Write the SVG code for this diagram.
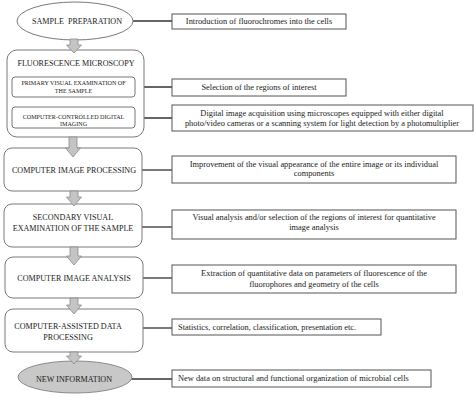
<svg xmlns="http://www.w3.org/2000/svg" width="474" height="402" viewBox="0 0 474 402">
<style>
.bg{fill:#ffffff}
.step{fill:#ffffff;stroke:#7a7a7a;stroke-width:1}
.inner{fill:#ffffff;stroke:#666666;stroke-width:0.9}
.note{fill:#ffffff;stroke:#555555;stroke-width:1}
.conn{stroke:#333333;stroke-width:1.3;fill:none}
.arrow{fill:#c4c4c4;stroke:#8a8a8a;stroke-width:0.8}
text{font-family:"Liberation Serif","Times New Roman","DejaVu Serif",serif;fill:#1a1a1a}
.t{font-size:8.1px;text-anchor:middle}
.ts{font-size:6.1px;text-anchor:middle}
.n{font-size:8.4px;text-anchor:middle}
.nl{font-size:8.4px;text-anchor:start}
</style>
<rect class="bg" x="0" y="0" width="474" height="402"/>

<g id="connectors">
<line class="conn" x1="133" y1="21" x2="172" y2="21"/>
<line class="conn" x1="135" y1="87" x2="172" y2="87"/>
<line class="conn" x1="135" y1="118" x2="172" y2="118"/>
<line class="conn" x1="142" y1="170" x2="172" y2="170"/>
<line class="conn" x1="142" y1="227" x2="172" y2="227"/>
<line class="conn" x1="143" y1="278" x2="172" y2="278"/>
<line class="conn" x1="143" y1="328" x2="172" y2="328"/>
<line class="conn" x1="131" y1="379" x2="172" y2="379"/>
</g>

<g id="sample-preparation">
<ellipse class="step" cx="75" cy="21" rx="58" ry="19"/>
<text class="t" x="77" y="23.9" xml:space="preserve">SAMPLE  PREPARATION</text>
</g>

<g id="fluorescence-microscopy">
<rect class="step" x="7" y="50" width="137" height="87" rx="10"/>
<text class="t" x="76" y="65.9">FLUORESCENCE MICROSCOPY</text>
</g>

<g id="primary-visual">
<rect class="inner" x="12" y="77" width="123" height="20" rx="3"/>
<text class="ts" x="73.5" y="85.2">PRIMARY VISUAL EXAMINATION OF</text>
<text class="ts" x="73.5" y="93.2">THE SAMPLE</text>
</g>

<g id="digital-imaging">
<rect class="inner" x="12" y="107" width="123" height="21" rx="3"/>
<text class="ts" x="73.5" y="118.9">COMPUTER-CONTROLLED DIGITAL</text>
<text class="ts" x="73.5" y="126.2">IMAGING</text>
</g>

<g id="image-processing">
<rect class="step" x="4" y="148" width="138" height="43" rx="8"/>
<text class="t" x="74" y="172.8">COMPUTER IMAGE PROCESSING</text>
</g>

<g id="secondary-visual">
<rect class="step" x="4" y="204" width="138" height="43" rx="8"/>
<text class="t" x="73" y="219.8">SECONDARY VISUAL</text>
<text class="t" x="73" y="230.8">EXAMINATION OF THE SAMPLE</text>
</g>

<g id="image-analysis">
<rect class="step" x="5" y="257" width="138" height="41" rx="8"/>
<text class="t" x="74" y="280.8">COMPUTER IMAGE ANALYSIS</text>
</g>

<g id="data-processing">
<rect class="step" x="5" y="309" width="138" height="43" rx="8"/>
<text class="t" x="68" y="328.8">COMPUTER-ASSISTED DATA</text>
<text class="t" x="68" y="339.8">PROCESSING</text>
</g>

<g id="new-information">
<ellipse cx="75" cy="377" rx="57" ry="16" fill="#c8c8c8" stroke="#8a8a8a" stroke-width="1"/>
<text class="t" x="74" y="381.8">NEW INFORMATION</text>
</g>

<g id="arrows">
<polygon class="arrow" points="70,39 78,39 78,45 81.5,45 74,53 66.5,45 70,45"/>
<polygon class="arrow" points="69,137 77,137 77,148 80.5,148 73,157 65.5,148 69,148"/>
<polygon class="arrow" points="70,191 78,191 78,197 81.5,197 74,206 66.5,197 70,197"/>
<polygon class="arrow" points="70,247 78,247 78,256 81.5,256 74,265 66.5,256 70,256"/>
<polygon class="arrow" points="70,298 78,298 78,305 81.5,305 74,314 66.5,305 70,305"/>
<polygon class="arrow" points="70,352 78,352 78,356 81.5,356 74,364 66.5,356 70,356"/>
</g>

<g id="note-fluorochromes">
<rect class="note" x="172" y="14" width="174" height="15"/>
<text class="n" x="259" y="24.4">Introduction of fluorochromes into the cells</text>
</g>

<g id="note-selection">
<rect class="note" x="172" y="79" width="174" height="17"/>
<text class="n" x="259" y="90.3">Selection of the regions of interest</text>
</g>

<g id="note-acquisition">
<rect class="note" x="172" y="105" width="301" height="26"/>
<text class="n" x="322" y="115.9">Digital image acquisition using microscopes equipped with either digital</text>
<text class="n" x="322" y="125.9">photo/video cameras or a scanning system for light detection by a photomultiplier</text>
</g>

<g id="note-improvement">
<rect class="note" x="172" y="156" width="284" height="27"/>
<text class="n" x="314" y="166.9">Improvement of the visual appearance of the entire image or its individual</text>
<text class="n" x="314" y="176.4">components</text>
</g>

<g id="note-visual-analysis">
<rect class="note" x="172" y="210" width="284" height="29"/>
<text class="n" x="314" y="220.4">Visual analysis and/or selection of the regions of interest for quantitative</text>
<text class="n" x="314" y="230.4">image analysis</text>
</g>

<g id="note-extraction">
<rect class="note" x="172" y="265" width="284" height="28"/>
<text class="n" x="314" y="275.9">Extraction of quantitative data on parameters of fluorescence of the</text>
<text class="n" x="314" y="286.7">fluorophores and geometry of the cells</text>
</g>

<g id="note-statistics">
<rect class="note" x="172" y="319" width="209" height="16"/>
<text class="nl" x="178" y="329.9">Statistics, correlation, classification, presentation etc.</text>
</g>

<g id="note-new-data">
<rect class="note" x="172" y="370" width="259" height="17"/>
<text class="nl" x="178" y="381.4">New data on structural and functional organization of microbial cells</text>
</g>
</svg>
